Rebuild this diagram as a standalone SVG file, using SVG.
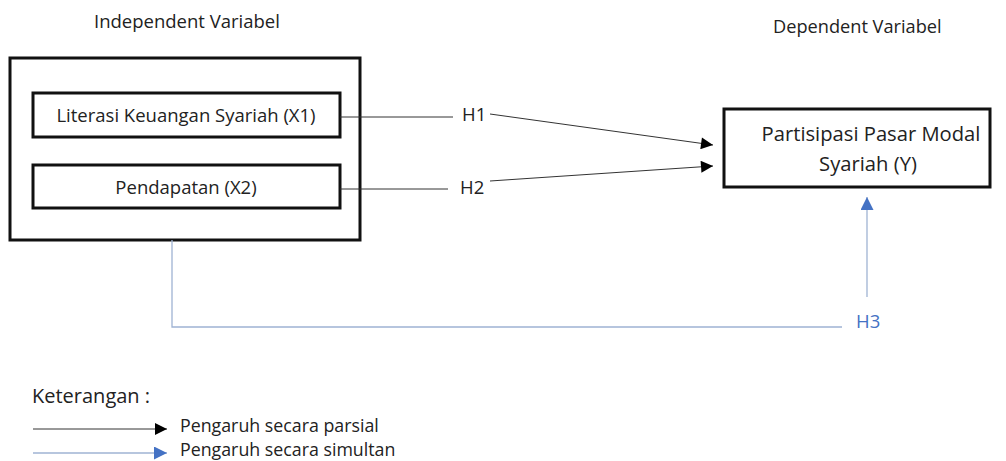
<svg xmlns="http://www.w3.org/2000/svg" width="1006" height="461" viewBox="0 0 1006 461">
<defs>
<style>
text{font-family:"Open Sans","Noto Sans",sans-serif;fill:#222}
.box{fill:#fff;stroke:#111;stroke-width:3}
.blk{stroke:#333;stroke-width:1;fill:none}
.blu{stroke:#9fb3d3;stroke-width:1.3;fill:none}
</style>
<marker id="ab" viewBox="0 0 10 10" refX="10" refY="5" markerWidth="13" markerHeight="12" markerUnits="userSpaceOnUse" orient="auto"><path d="M0,0L10,5L0,10z" fill="#000"/></marker>
<marker id="au" viewBox="0 0 10 10" refX="10" refY="5" markerWidth="13" markerHeight="13" markerUnits="userSpaceOnUse" orient="auto"><path d="M0,0L10,5L0,10z" fill="#4472c4"/></marker>
</defs>
<text x="94" y="28" font-size="18.5">Independent Variabel</text>
<text x="773" y="33" font-size="18.2">Dependent Variabel</text>
<g id="independent"><rect class="box" x="10" y="58" width="350" height="182"/></g>
<g id="x1"><rect class="box" x="33" y="93" width="307" height="44"/><text x="186" y="122" font-size="18.5" text-anchor="middle">Literasi Keuangan Syariah (X1)</text></g>
<g id="x2"><rect class="box" x="33" y="165" width="307" height="43"/><text x="186" y="194" font-size="18.5" text-anchor="middle">Pendapatan (X2)</text></g>
<g id="y"><rect class="box" x="724" y="109" width="266" height="78"/><text x="871" y="141" font-size="20.2" text-anchor="middle">Partisipasi Pasar Modal</text><text x="868" y="171" font-size="20.2" text-anchor="middle">Syariah (Y)</text></g>
<g id="connectors">
<line class="blk" x1="340" y1="117" x2="453" y2="117"/>
<line class="blk" x1="490" y1="114" x2="713" y2="145" marker-end="url(#ab)"/>
<line class="blk" x1="340" y1="189" x2="448" y2="189"/>
<line class="blk" x1="490" y1="181" x2="713" y2="166" marker-end="url(#ab)"/>
<polyline class="blu" points="172,240 172,327 842,327"/>
<line class="blu" x1="867" y1="297" x2="867" y2="197" marker-end="url(#au)"/>
</g>
<text x="462" y="121" font-size="18.5">H1</text>
<text x="460" y="194" font-size="18.5">H2</text>
<text x="856" y="328" font-size="18.5" style="fill:#4472c4">H3</text>
<g id="legend">
<text x="32" y="403" font-size="20">Keterangan :</text>
<line class="blk" x1="33" y1="429" x2="167" y2="429" marker-end="url(#ab)"/>
<text x="180" y="432" font-size="17.8">Pengaruh secara parsial</text>
<line class="blu" x1="33" y1="453" x2="167" y2="453" marker-end="url(#au)"/>
<text x="180" y="456" font-size="17.8">Pengaruh secara simultan</text>
</g>
</svg>
